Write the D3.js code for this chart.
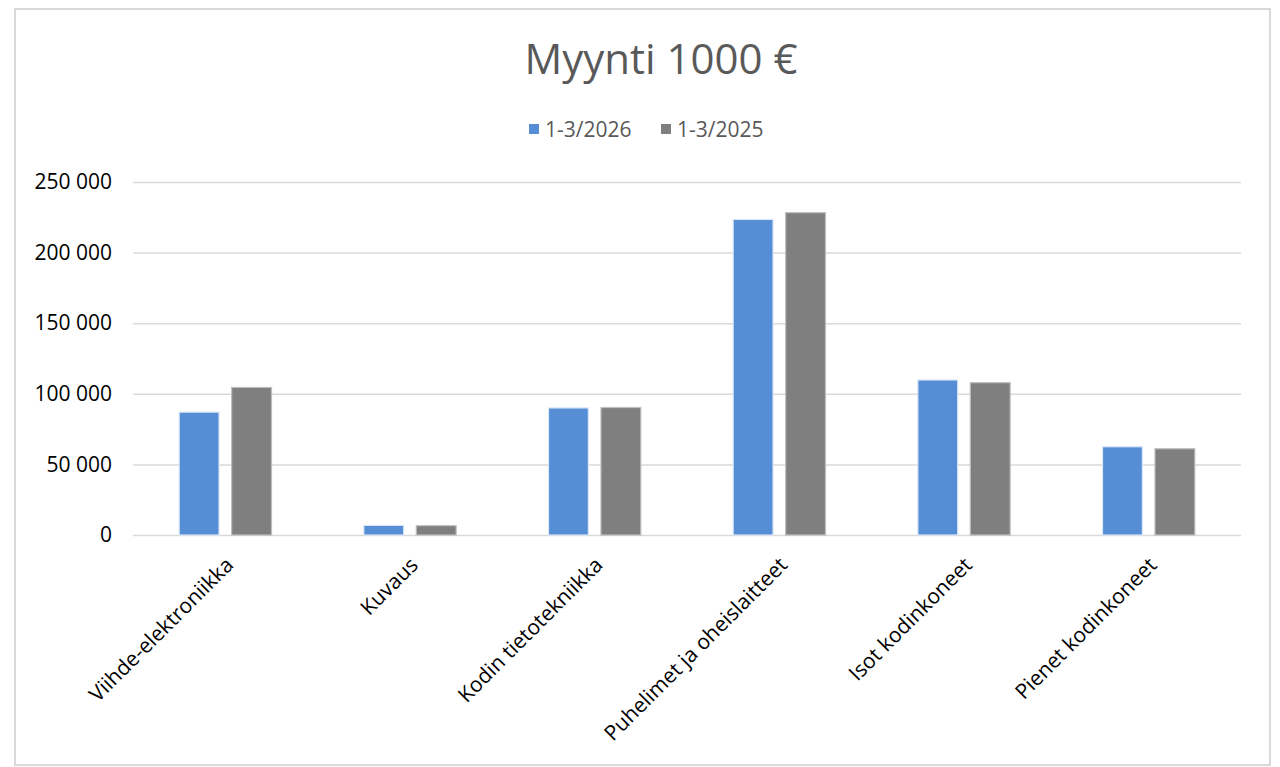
<!DOCTYPE html>
<html>
<head>
<meta charset="utf-8">
<script src="https://cdn.jsdelivr.net/npm/d3@7"></script>
<style>
  body { margin: 0; background: #fff; }
  svg { display: block; font-family: "Open Sans", "Noto Sans", sans-serif; }
</style>
</head>
<body>
<svg id="chart"></svg>
<script>
const categories = [
  "Viihde-elektroniikka",
  "Kuvaus",
  "Kodin tietotekniikka",
  "Puhelimet ja oheislaitteet",
  "Isot kodinkoneet",
  "Pienet kodinkoneet",
];
const seriesNames = ["1-3/2026", "1-3/2025"];
const sales2026 = [87000, 6800, 90000, 223500, 109800, 62500];
const sales2025 = [104500, 6600, 90300, 228300, 107900, 61100];
const yTicks = [0, 50000, 100000, 150000, 200000, 250000];

const seriesColors = ["#558ed5", "#7f7f7f"];
const seriesStroke = ["#dbe7f7", "#bfbfbf"];

const svgWidth = 1280;
const svgHeight = 767;
const m_left = 133;
const m_right = 39;
const m_top = 182;
const plotBottom = 535;
const width = svgWidth - m_left - m_right;
const height = plotBottom - m_top;

const svg = d3.select("#chart").attr("width", svgWidth).attr("height", svgHeight);

// outer chart frame
svg.append("rect")
  .attr("x", 15).attr("y", 9)
  .attr("width", 1255).attr("height", 756)
  .attr("fill", "#fff")
  .attr("stroke", "#d9d9d9")
  .attr("stroke-width", 2);

svg.append("text")
  .attr("x", 661).attr("y", 74)
  .attr("text-anchor", "middle")
  .attr("fill", "#595959")
  .style("font-size", "42px")
  .text("Myynti 1000 €");

// legend
const legendItems = [
  { name: seriesNames[0], x: 529 },
  { name: seriesNames[1], x: 661 },
];
const legend = svg.append("g");
legendItems.forEach((d, i) => {
  legend.append("rect")
    .attr("x", d.x).attr("y", 124)
    .attr("width", 10).attr("height", 10)
    .attr("fill", seriesColors[i]);
  legend.append("text")
    .attr("x", d.x + 16).attr("y", 136.5)
    .attr("fill", "#595959")
    .style("font-size", "21px")
    .text(d.name);
});

const chart = svg.append("g").attr("transform", `translate(${m_left}, ${m_top})`);

const x0 = d3.scaleBand().domain(categories).range([0, width]).paddingInner(0.5).paddingOuter(0.25);
const x1 = d3.scaleBand().domain(seriesNames).range([0, x0.bandwidth()]).paddingInner(0.24);
const y = d3.scaleLinear().domain([0, 250000]).range([height, 0]);

const fmt = (v) => d3.format(",")(v).replace(/,/g, " ");

const yAxis = chart.append("g")
  .call(d3.axisLeft(y).tickValues(yTicks).tickSize(-width).tickFormat(fmt));
yAxis.select(".domain").remove();
yAxis.selectAll(".tick line").attr("stroke", "#d9d9d9").attr("stroke-width", 1.5);
yAxis.selectAll(".tick text")
  .attr("x", -21)
  .attr("fill", "#000")
  .style("font-size", "21px")
  .style("font-family", "Open Sans, sans-serif");

const data = categories.map((c, i) => ({
  category: c,
  values: [
    { series: seriesNames[0], value: sales2026[i], idx: 0 },
    { series: seriesNames[1], value: sales2025[i], idx: 1 },
  ],
}));

chart.selectAll(".group")
  .data(data)
  .join("g")
  .attr("class", "group")
  .attr("transform", (d) => `translate(${x0(d.category)}, 0)`)
  .selectAll("rect")
  .data((d) => d.values)
  .join("rect")
  .attr("x", (d) => x1(d.series))
  .attr("y", (d) => y(d.value))
  .attr("width", x1.bandwidth())
  .attr("height", (d) => height - y(d.value))
  .attr("fill", (d) => seriesColors[d.idx])
  .attr("stroke", (d) => seriesStroke[d.idx])
  .attr("stroke-width", 1.2);

const xAxis = chart.append("g")
  .attr("transform", `translate(0, ${height})`)
  .call(d3.axisBottom(x0).tickSize(0));
xAxis.select(".domain").remove();
xAxis.selectAll(".tick text")
  .attr("fill", "#000")
  .style("font-size", "21px")
  .style("font-family", "Open Sans, sans-serif")
  .style("text-anchor", "end")
  .attr("dy", "0.35em")
  .attr("transform", "translate(2, 24) rotate(-45)");
</script>
</body>
</html>
